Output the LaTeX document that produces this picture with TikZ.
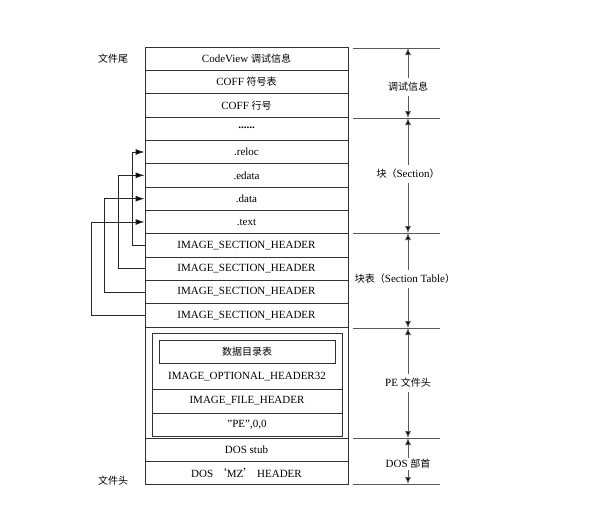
\documentclass[tikz,border=0pt]{standalone}
\usepackage{fontspec}
\setmainfont{Liberation Serif}
\newfontfamily\cjk{Noto Sans CJK SC}
\usetikzlibrary{arrows.meta}
\begin{document}
\begin{tikzpicture}[x=1pt,y=-1pt,
  every node/.style={font=\fontsize{11}{13}\selectfont},
  row/.style={draw=black!80,line width=0.8pt,minimum width=203pt,minimum height=23.33pt,inner sep=0pt,anchor=center},
  inrow/.style={draw=black!80,line width=0.8pt,minimum width=190pt,inner sep=0pt},
  tick/.style={draw=black!65,line width=0.8pt},
  dim/.style={draw=black!65,line width=0.8pt,-{Latex[length=7pt,width=6pt,fill=black]}},
  link/.style={draw=black!85,line width=0.9pt,-{Latex[length=9pt,width=6pt,fill=black]}},
  lab/.style={inner sep=4pt,fill=white}]
\useasboundingbox[fill=white] (0,0) rectangle (594,525);
% main column
\node[row] (cv)    at (246.5,58.7)  {CodeView {\cjk\fontsize{10}{12}\selectfont 调试信息}};
\node[row] (coffs) at (246.5,82.0)  {COFF {\cjk\fontsize{10}{12}\selectfont 符号表}};
\node[row] (coffl) at (246.5,105.3) {COFF {\cjk\fontsize{10}{12}\selectfont 行号}};
\node[row] (dots)  at (246.5,128.7) {\textbf{\raisebox{2pt}{......}}};
\node[row] (reloc) at (246.5,152.0) {.reloc};
\node[row] (edata) at (246.5,175.3) {.edata};
\node[row] (data)  at (246.5,198.7) {.data};
\node[row] (text)  at (246.5,222.0) {.text};
\node[row] (sh1)   at (246.5,245.3) {IMAGE\_SECTION\_HEADER};
\node[row] (sh2)   at (246.5,268.7) {IMAGE\_SECTION\_HEADER};
\node[row] (sh3)   at (246.5,292.0) {IMAGE\_SECTION\_HEADER};
\node[row] (sh4)   at (246.5,315.3) {IMAGE\_SECTION\_HEADER};
% PE header block
\node[row,minimum height=111pt] (pe) at (246.5,382.5) {};
\node[inrow,minimum height=56pt] (opt) at (247,361) {};
\node[draw=black!80,line width=0.8pt,minimum width=176pt,minimum height=23pt,inner sep=0pt] (dir) at (247,351.5) {{\cjk\fontsize{10}{12}\selectfont 数据目录表}};
\node (optt) at (247,377) {IMAGE\_OPTIONAL\_HEADER32};
\node[inrow,minimum height=24pt] (fh) at (247,401) {IMAGE\_FILE\_HEADER};
\node[inrow,minimum height=23pt] (sig) at (247,424.5) {"PE",0,0};
% DOS
\node[row,minimum height=23pt] (stub) at (246.5,449.5) {DOS stub};
\node[row,minimum height=23pt] (mz)   at (246.5,472.5) {DOS {\cjk ‘}MZ{\cjk ’} HEADER};
% side labels
\node (tail) at (113,59)  {{\cjk\fontsize{10}{12}\selectfont 文件尾}};
\node (head) at (113,481) {{\cjk\fontsize{10}{12}\selectfont 文件头}};
% left links
\draw[link] (sh1.west) -- ++(-12,0) |- (reloc.west);
\draw[link] (sh2.west) -- ++(-26,0) |- (edata.west);
\draw[link] (sh3.west) -- ++(-40,0) |- (data.west);
\draw[link] (sh4.west) -- ++(-53,0) |- (text.west);
% right dimension ticks
\coordinate (t1) at (408,48);
\coordinate (t2) at (408,118);
\coordinate (t3) at (408,233);
\coordinate (t4) at (408,328);
\coordinate (t5) at (408,438);
\coordinate (t6) at (408,484);
\foreach \t in {t1,t2,t3,t4,t5,t6}{\draw[tick] ([xshift=-55pt]\t) -- ([xshift=32pt]\t);}
\node[lab] (l1) at (408,87)  {{\cjk\fontsize{10}{12}\selectfont 调试信息}};
\node[lab] (l2) at (408,174) {{\cjk\fontsize{10}{12}\selectfont 块（}Section{\cjk\fontsize{10}{12}\selectfont ）}};
\node[lab] (l3) at (405,279) {{\cjk\fontsize{10}{12}\selectfont 块表（}Section Table{\cjk\fontsize{10}{12}\selectfont ）}};
\node[lab] (l4) at (408,383) {PE {\cjk\fontsize{10}{12}\selectfont 文件头}};
\node[lab,inner sep=1.5pt] (l5) at (408,464) {DOS {\cjk\fontsize{10}{12}\selectfont 部首}};
\draw[dim] (l1.north -| t1) -- (t1); \draw[dim] (l1.south -| t1) -- (t2);
\draw[dim] (l2.north -| t1) -- (t2); \draw[dim] (l2.south -| t1) -- (t3);
\draw[dim] (l3.north -| t1) -- (t3); \draw[dim] (l3.south -| t1) -- (t4);
\draw[dim] (l4.north -| t1) -- (t4); \draw[dim] (l4.south -| t1) -- (t5);
\draw[dim] (l5.north -| t1) -- (t5); \draw[dim] (l5.south -| t1) -- (t6);
\end{tikzpicture}
\end{document}
